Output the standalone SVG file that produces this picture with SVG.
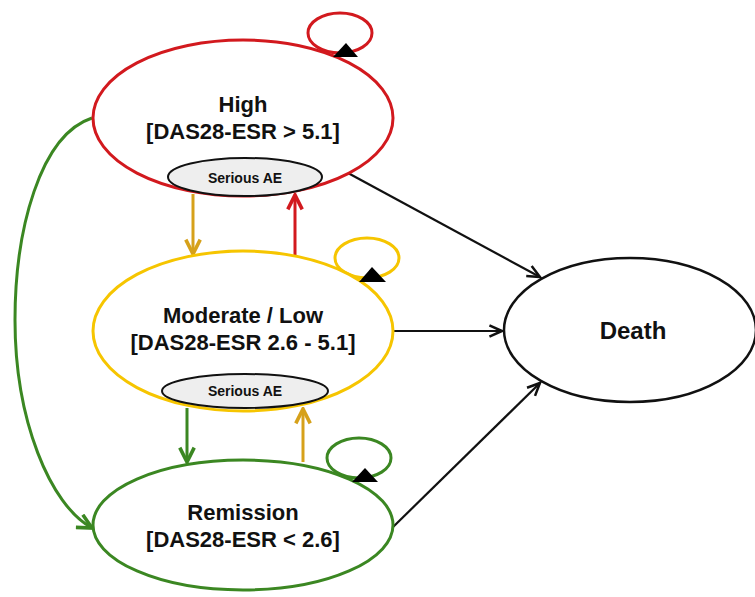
<svg xmlns="http://www.w3.org/2000/svg" width="755" height="597" viewBox="0 0 755 597">
<style>
.lbl{font-family:"Liberation Sans",Arial,sans-serif;font-weight:bold;font-size:22px;fill:#111;text-anchor:middle}
.ae{font-family:"Liberation Sans",Arial,sans-serif;font-weight:bold;font-size:14px;fill:#111;text-anchor:middle}
.dth{font-family:"Liberation Sans",Arial,sans-serif;font-weight:bold;font-size:24px;fill:#111;text-anchor:middle}
.node{fill:#fff;stroke-width:3}
.aebox{fill:#eeeeee;stroke:#111;stroke-width:2}
.c{fill:none;stroke-width:3}
.k{fill:none;stroke:#111;stroke-width:2.2}
.tri{fill:#000}
</style>
<defs>
<marker id="mk" markerUnits="userSpaceOnUse" markerWidth="16" markerHeight="16" refX="12" refY="6" orient="auto" viewBox="0 0 14 12"><path d="M1,1 L12,6 L1,11" fill="none" stroke="#111" stroke-width="2.2"/></marker>
<marker id="mr" markerUnits="userSpaceOnUse" markerWidth="18" markerHeight="18" refX="13" refY="7" orient="auto" viewBox="0 0 15 14"><path d="M1,1 L13,7 L1,13" fill="none" stroke="#D2191E" stroke-width="3"/></marker>
<marker id="mg" markerUnits="userSpaceOnUse" markerWidth="18" markerHeight="18" refX="13" refY="7" orient="auto" viewBox="0 0 15 14"><path d="M1,1 L13,7 L1,13" fill="none" stroke="#3B8722" stroke-width="3"/></marker>
<marker id="my" markerUnits="userSpaceOnUse" markerWidth="18" markerHeight="18" refX="13" refY="7" orient="auto" viewBox="0 0 15 14"><path d="M1,1 L13,7 L1,13" fill="none" stroke="#D6A11A" stroke-width="3"/></marker>
</defs>
<rect width="755" height="597" fill="#fff"/>

<g id="connectors">
<ellipse cx="340" cy="33" rx="32" ry="20" class="c" stroke="#D2191E"/>
<ellipse cx="367" cy="258" rx="32" ry="20" class="c" stroke="#F6C500"/>
<ellipse cx="359" cy="458" rx="32" ry="20" class="c" stroke="#3B8722"/>
<path class="c" stroke="#3B8722" d="M92,118 C40,135 15,230 15,320 C15,420 50,505 92,528" marker-end="url(#mg)"/>
<path class="c" stroke="#D6A11A" d="M193,194 L193,254" marker-end="url(#my)"/>
<path class="c" stroke="#D2191E" d="M295,256 L295,195" marker-end="url(#mr)"/>
<path class="c" stroke="#3B8722" d="M187,408 L187,462" marker-end="url(#mg)"/>
<path class="c" stroke="#D6A11A" d="M303,462 L303,409" marker-end="url(#my)"/>
<path class="k" d="M348,173 L540,277" marker-end="url(#mk)"/>
<path class="k" d="M392,331 L502,331" marker-end="url(#mk)"/>
<path class="k" d="M392,528 L540,383" marker-end="url(#mk)"/>
</g>

<g id="high">
<ellipse cx="243" cy="118" rx="150" ry="78" class="node" stroke="#D2191E"/>
<text x="243" y="112" class="lbl">High</text>
<text x="243" y="139" class="lbl">[DAS28-ESR &gt; 5.1]</text>
</g>
<g id="high-ae">
<ellipse cx="245" cy="177" rx="77" ry="19" class="aebox"/>
<text x="245" y="183" class="ae">Serious AE</text>
</g>

<g id="moderate">
<ellipse cx="243" cy="331" rx="150" ry="80" class="node" stroke="#F6C500"/>
<text x="243" y="323" class="lbl">Moderate / Low</text>
<text x="243" y="350" class="lbl">[DAS28-ESR 2.6 - 5.1]</text>
</g>
<g id="moderate-ae">
<ellipse cx="245" cy="391" rx="83" ry="17" class="aebox"/>
<text x="245" y="396" class="ae">Serious AE</text>
</g>

<g id="remission">
<ellipse cx="243" cy="525" rx="150" ry="65" class="node" stroke="#3B8722"/>
<text x="243" y="520" class="lbl">Remission</text>
<text x="243" y="547" class="lbl">[DAS28-ESR &lt; 2.6]</text>
</g>

<g id="death">
<ellipse cx="630" cy="330" rx="126" ry="72" class="node" stroke="#111" style="stroke-width:2.5"/>
<text x="633" y="339" class="dth">Death</text>
</g>

<g id="loop-markers">
<polygon class="tri" points="346,43 333,57 358,57"/>
<polygon class="tri" points="372,267 359,282 386,282"/>
<polygon class="tri" points="365,468 352,482 378,482"/>
</g>
</svg>
